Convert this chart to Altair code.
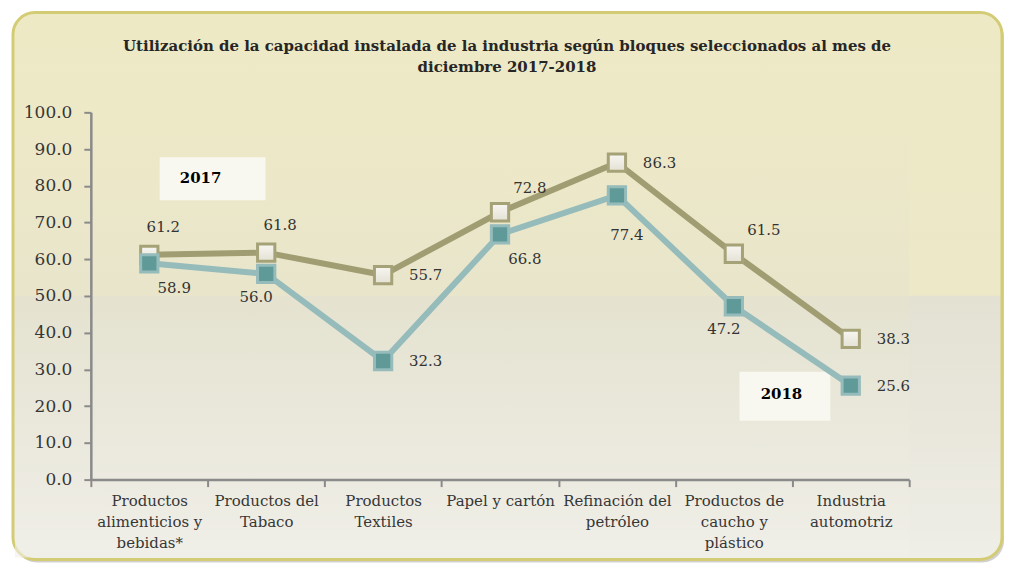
import json
import altair as alt
import pandas as pd

# ---- data ----
categories = [
    ["Productos", "alimenticios y", "bebidas*"],
    ["Productos del", "Tabaco"],
    ["Productos", "Textiles"],
    ["Papel y cartón"],
    ["Refinación del", "petróleo"],
    ["Productos de", "caucho y", "plástico"],
    ["Industria", "automotriz"],
]
values_2017 = [61.2, 61.8, 55.7, 72.8, 86.3, 61.5, 38.3]
values_2018 = [58.9, 56.0, 32.3, 66.8, 77.4, 47.2, 25.6]
# label placement relative to each point (compass codes)
place_2017 = ["N", "N", "E", "NE", "E", "NE", "E"]
place_2018 = ["SE", "SW", "E", "SE", "S", "SW", "E"]
y_ticks = [0, 10, 20, 30, 40, 50, 60, 70, 80, 90, 100]
title_lines = [
    "Utilización de la capacidad instalada de la industria según bloques seleccionados al mes de",
    "diciembre 2017-2018",
]

rows = []
for i in range(len(categories)):
    rows.append({"pos": i + 0.5, "serie": "2017", "valor": values_2017[i], "place": place_2017[i]})
for i in range(len(categories)):
    rows.append({"pos": i + 0.5, "serie": "2018", "valor": values_2018[i], "place": place_2018[i]})
df = pd.DataFrame(rows)

W, H = 820, 368
n = len(categories)
band = W / n
SERIF = "DejaVu Serif"

label_arr = json.dumps(categories, ensure_ascii=False)
x_enc = alt.X(
    "pos:Q",
    scale=alt.Scale(domain=[0, n], nice=False, zero=False),
    axis=alt.Axis(
        values=list(range(n + 1)),
        labelExpr=f"datum.value < {n} ? {label_arr}[datum.value] : ''",
        labelOffset=band / 2,
        labelFlush=False,
        labelOverlap=False,
        labelBound=False,
        labelBaseline="top",
        labelLineHeight=21,
        labelFontSize=15,
        labelFont=SERIF,
        labelColor="#363636",
        labelPadding=7,
        tickSize=7,
        tickWidth=2,
        tickColor="#8a8a8a",
        domainColor="#8a8a8a",
        domainWidth=2.5,
        grid=False,
        title=None,
        zindex=1,
    ),
)
y_enc = alt.Y(
    "valor:Q",
    scale=alt.Scale(domain=[0, 100], nice=False),
    axis=alt.Axis(
        values=y_ticks,
        tickCount=11,
        format=".1f",
        labelFontSize=17,
        labelFont=SERIF,
        labelColor="#363636",
        labelPadding=12,
        labelOverlap=False,
        labelFlush=False,
        tickSize=7,
        tickWidth=2,
        tickColor="#8a8a8a",
        domainColor="#8a8a8a",
        domainWidth=2.5,
        grid=False,
        title=None,
        zindex=1,
    ),
)

base = alt.Chart(df)

# ---- decoration: frame, shadow ----
FL, FR, FT, FB = -78, W + 93, -100, H + 80
frame_grad = alt.Gradient(
    gradient="linear", x1=0, x2=0, y1=0, y2=1,
    stops=[
        alt.GradientStop(color="#EEE9C5", offset=0),
        alt.GradientStop(color="#ECE8C8", offset=0.517),
        alt.GradientStop(color="#E3E1D2", offset=0.519),
        alt.GradientStop(color="#EFEEE7", offset=1),
    ],
)
shadow = alt.Chart(pd.DataFrame({"k": [0]})).mark_rect(
    fill="#9a9690", opacity=0.45, cornerRadius=22
).encode(x=alt.value(FL + 2), x2=alt.value(FR + 2), y=alt.value(FT + 3), y2=alt.value(FB + 3))
frame = alt.Chart(pd.DataFrame({"k": [0]})).mark_rect(
    fill=frame_grad, stroke="#D4CC74", strokeWidth=3, cornerRadius=22
).encode(x=alt.value(FL), x2=alt.value(FR), y=alt.value(FT), y2=alt.value(FB))

inner_grad = alt.Gradient(
    gradient="linear", x1=0, x2=0, y1=0, y2=1,
    stops=[
        alt.GradientStop(color="#EEE9C6", offset=0),
        alt.GradientStop(color="#E6E3CE", offset=0.45),
        alt.GradientStop(color="#F0EFE9", offset=1),
    ],
)
inner = alt.Chart(pd.DataFrame({"k": [0]})).mark_rect(fill=inner_grad, opacity=0.6).encode(
    x=alt.value(FL + 2), x2=alt.value(W), y=alt.value(-12), y2=alt.value(FB - 2)
)

# ---- legend boxes ----
box17 = alt.Chart(pd.DataFrame({"k": [0]})).mark_rect(fill="#F8F8F0").encode(
    x=alt.value(69), x2=alt.value(175), y=alt.value(45), y2=alt.value(88)
)
txt17 = alt.Chart(pd.DataFrame({"t": ["2017"]})).mark_text(
    font=SERIF, fontSize=15, fontWeight="bold", color="#000000", baseline="middle"
).encode(x=alt.value(110), y=alt.value(66), text="t:N")
box18 = alt.Chart(pd.DataFrame({"k": [0]})).mark_rect(fill="#F8F8F0").encode(
    x=alt.value(650), x2=alt.value(741), y=alt.value(260), y2=alt.value(309)
)
txt18 = alt.Chart(pd.DataFrame({"t": ["2018"]})).mark_text(
    font=SERIF, fontSize=15, fontWeight="bold", color="#000000", baseline="middle"
).encode(x=alt.value(692), y=alt.value(282), text="t:N")

# ---- series ----
line17 = base.transform_filter("datum.serie == '2017'").mark_line(
    color="#A19D72", strokeWidth=6
).encode(x=x_enc, y=y_enc)
pts17 = base.transform_filter("datum.serie == '2017'").mark_square(
    size=300, opacity=1,
    fill=alt.Gradient(gradient="linear", x1=0, x2=0, y1=0, y2=1,
                      stops=[alt.GradientStop(color="#F7F6F1", offset=0),
                             alt.GradientStop(color="#E4E1D4", offset=1)]),
    stroke="#A6A278", strokeWidth=3,
).encode(x=x_enc, y=y_enc)
line18 = base.transform_filter("datum.serie == '2018'").mark_line(
    color="#95BBBB", strokeWidth=6
).encode(x=x_enc, y=y_enc)
pts18 = base.transform_filter("datum.serie == '2018'").mark_square(
    size=300, opacity=1, fill="#5F9A98", stroke="#95BBBB", strokeWidth=3
).encode(x=x_enc, y=y_enc)

offsets = {
    "N": (14, -28, "center"),
    "NE": (30, -24, "center"),
    "E": (26, 0, "left"),
    "SE": (25, 25, "center"),
    "S": (10, 40, "center"),
    "SW": (-10, 23, "center"),
}
label_layers = []
for code, (dx, dy, al) in offsets.items():
    label_layers.append(
        base.transform_filter(f"datum.place == '{code}'").mark_text(
            font=SERIF, fontSize=15, color="#333333", dx=dx, dy=dy, align=al, baseline="middle"
        ).encode(x=x_enc, y=y_enc, text=alt.Text("valor:Q", format=".1f"))
    )

chart = alt.layer(
    shadow, frame, inner, box17, txt17, box18, txt18,
    line17, pts17, line18, pts18, *label_layers,
).properties(
    width=W, height=H,
    padding={"left": 3, "top": 2, "right": 0, "bottom": 0},
    title=alt.TitleParams(
        text=title_lines, font=SERIF, fontSize=15, fontWeight="bold",
        color="#262626", anchor="middle", lineHeight=21, dx=7, offset=-64,
    ),
).configure_view(stroke=None).configure_axis(labelOverlap=False).configure(background="#ffffff")

chart.save("out.html", embed_options={"renderer": "svg", "actions": False})
